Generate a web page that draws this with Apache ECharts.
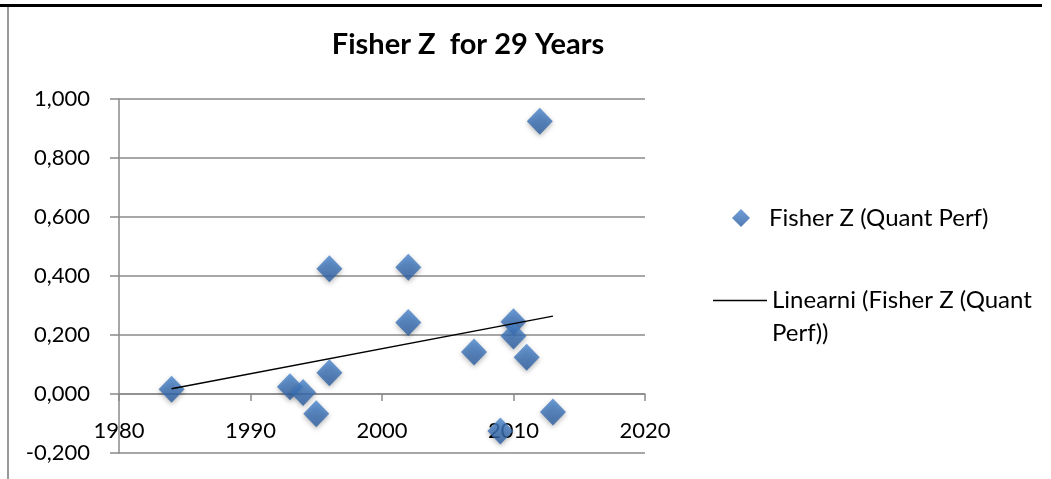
<!DOCTYPE html>
<html>
<head>
<meta charset="utf-8">
<script src="https://cdn.jsdelivr.net/npm/echarts@6/dist/echarts.min.js"></script>
<style>
html,body{margin:0;padding:0;background:#fff;}
#chart{width:1051px;height:479px;}
</style>
</head>
<body>
<div id="chart"></div>
<script>
// Data
const years = [1984, 1993, 1994, 1995, 1996, 1996, 2002, 2002, 2007, 2010, 2010, 2011, 2009, 2013, 2012];
const fisherZ = [0.016, 0.025, 0.005, -0.067, 0.072, 0.425, 0.430, 0.242, 0.142, 0.245, 0.197, 0.125, -0.125, -0.061, 0.925];
const trendYears = [1984, 2013];
const trendValues = [0.018, 0.264];
const yTicks = [-0.2, 0, 0.2, 0.4, 0.6, 0.8, 1.0];
const xTicks = [1980, 1990, 2000, 2010, 2020];

const scatterName = 'Fisher Z (Quant Perf)';
const trendName = 'Linearni (Fisher Z (Quant Perf))';
const FONT = 'Lato';

const chart = echarts.init(document.getElementById('chart'), null, {renderer: 'canvas'});
const axisGray = '#8a8a8a';

chart.setOption({
  animation: false,
  backgroundColor: '#fff',
  textStyle: {fontFamily: FONT},
  title: {
    text: 'Fisher Z  for 29 Years',
    left: 468,
    textAlign: 'center',
    top: 30,
    padding: 0,
    textStyle: {fontFamily: FONT, fontWeight: 'bold', fontSize: 29, color: '#000'}
  },
  grid: {left: 119, right: 406, top: 99, bottom: 26, containLabel: false, outerBoundsMode: 'none'},
  xAxis: {
    type: 'value',
    min: xTicks[0], max: xTicks[xTicks.length - 1], interval: 10,
    axisLine: {show: true, onZero: true, lineStyle: {color: axisGray, width: 1.5}},
    axisTick: {show: true, length: 7, inside: false, lineStyle: {color: axisGray, width: 1.5}},
    axisLabel: {margin: -33, fontSize: 22, color: '#000', fontFamily: FONT, formatter: v => String(v)},
    splitLine: {show: false}
  },
  yAxis: {
    type: 'value',
    min: yTicks[0], max: yTicks[yTicks.length - 1], interval: 0.2,
    axisLine: {show: true, lineStyle: {color: axisGray, width: 1.5}},
    axisTick: {show: true, length: 9, inside: false, lineStyle: {color: axisGray, width: 1.5}},
    axisLabel: {
      margin: 29, fontSize: 22, color: '#000', fontFamily: FONT,
      formatter: v => (Math.abs(v) < 1e-9 ? 0 : v).toFixed(3).replace('.', ',')
    },
    splitLine: {show: true, lineStyle: {color: axisGray, width: 1.5}}
  },
  legend: [
    {
      data: [scatterName],
      orient: 'vertical',
      left: 732, top: 206,
      padding: 0,
      itemWidth: 18, itemHeight: 18,
      icon: 'diamond',
      textStyle: {fontFamily: FONT, fontSize: 24, color: '#000', padding: [0, 0, 0, 14]},
      selectedMode: false
    },
    {
      data: [{name: trendName, icon: 'rect', itemStyle: {color: '#000'}}],
      orient: 'vertical',
      left: 713, top: 251,
      padding: 0,
      itemWidth: 54, itemHeight: 1.5,
      formatter: () => '\nLinearni (Fisher Z (Quant\nPerf))',
      textStyle: {fontFamily: FONT, fontSize: 24, color: '#000', lineHeight: 33},
      selectedMode: false
    }
  ],
  series: [
    {
      name: scatterName,
      type: 'scatter',
      symbol: 'diamond',
      symbolSize: [26, 27],
      data: years.map((y, i) => [y, fisherZ[i]]),
      itemStyle: {
        color: new echarts.graphic.LinearGradient(0, 0, 0, 1, [
          {offset: 0, color: '#4a86cf'},
          {offset: 1, color: '#2a5c9e'}
        ]),
        shadowBlur: 5,
        shadowColor: 'rgba(0,0,0,0.35)',
        shadowOffsetY: 2
      },
      z: 3
    },
    {
      name: trendName,
      type: 'line',
      symbol: 'none',
      data: trendYears.map((y, i) => [y, trendValues[i]]),
      lineStyle: {color: '#000', width: 1.5},
      itemStyle: {color: '#000'},
      z: 4
    }
  ],
  graphic: [
    {type: 'line', shape: {x1: 0, y1: 5.5, x2: 1042, y2: 5.5}, style: {stroke: '#000', lineWidth: 3}, silent: true},
    {type: 'line', shape: {x1: 8, y1: 7, x2: 8, y2: 479}, style: {stroke: '#999', lineWidth: 2}, silent: true}
  ]
});
</script>
</body>
</html>
